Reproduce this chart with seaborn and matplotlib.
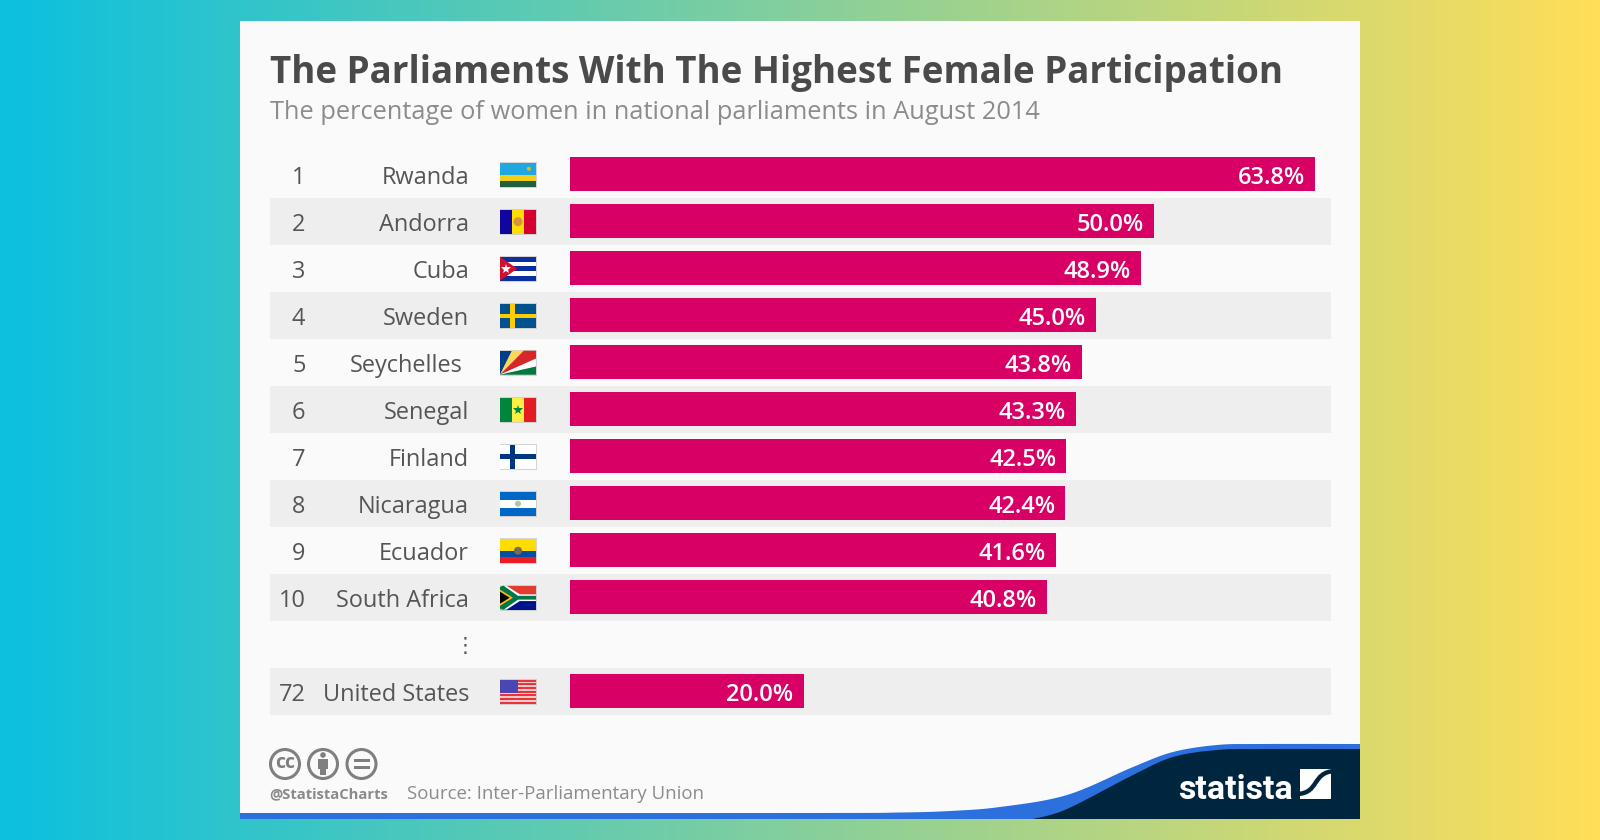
import numpy as np
import pandas as pd
import matplotlib
matplotlib.use("Agg")
import matplotlib.pyplot as plt
import seaborn as sns
from matplotlib.colors import LinearSegmentedColormap
from matplotlib.patches import Circle, PathPatch, Polygon, Rectangle
from matplotlib.path import Path
from matplotlib.transforms import Affine2D

TITLE = "The Parliaments With The Highest Female Participation"
SUBTITLE = "The percentage of women in national parliaments in August 2014"
SOURCE = "Source: Inter-Parliamentary Union"
HANDLE = "@StatistaCharts"

ranks = ["1", "2", "3", "4", "5", "6", "7", "8", "9", "10", "", "72"]
countries = ["Rwanda", "Andorra", "Cuba", "Sweden", "Seychelles", "Senegal",
             "Finland", "Nicaragua", "Ecuador", "South Africa", "", "United States"]
shares = [63.8, 50.0, 48.9, 45.0, 43.8, 43.3, 42.5, 42.4, 41.6, 40.8, np.nan, 20.0]

BAR_COLOR = "#D80064"
CARD = "#FAFAFA"
STRIPE = "#EEEEEE"
TEXT = "#555555"
NAVY = "#00263F"
BLUE = "#2B70DC"

# pixel layout of the chart area
PX_PER_PCT = 11.68
BAR_X0 = 570
ROW_LEFT, ROW_RIGHT = 270, 1331
ROW_TOP, ROW_H = 150.7, 47

sns.set_style("white")
plt.rcParams["font.family"] = ["Open Sans", "DejaVu Sans"]

fig = plt.figure(figsize=(16, 8.4), dpi=100)


def pixel_axes(zorder):
    ax = fig.add_axes([0, 0, 1, 1], zorder=zorder)
    ax.set_xlim(0, 1600)
    ax.set_ylim(840, 0)
    ax.axis("off")
    return ax


# ---------------------------------------------------------------------------
# Background and card
# ---------------------------------------------------------------------------
back = pixel_axes(0)
gradient = LinearSegmentedColormap.from_list("bg", ["#0CC0DF", "#FFDE59"])
back.imshow(np.linspace(0, 1, 800)[None, :], cmap=gradient, aspect="auto",
            extent=(0, 1600, 840, 0))
back.set_xlim(0, 1600)
back.set_ylim(840, 0)
back.add_patch(Rectangle((240, 21), 1120, 798, color=CARD, lw=0))

# ---------------------------------------------------------------------------
# Bars
# ---------------------------------------------------------------------------
df = pd.DataFrame({"country": [c or " " for c in countries], "share": shares})

ax = fig.add_axes([ROW_LEFT / 1600, 1 - (ROW_TOP + 12 * ROW_H) / 840,
                   (ROW_RIGHT - ROW_LEFT) / 1600, 12 * ROW_H / 840], zorder=1)
ax.patch.set_alpha(0)
sns.barplot(data=df, x="share", y="country", color=BAR_COLOR, saturation=1,
            width=34 / 47, linewidth=0, ax=ax, zorder=3)
ax.set_xlim((ROW_LEFT - BAR_X0) / PX_PER_PCT, (ROW_RIGHT - BAR_X0) / PX_PER_PCT)
ax.set_ylim(11.5, -0.5)
ax.set(xlabel="", ylabel="", xticks=[], yticks=[])
sns.despine(ax=ax, left=True, bottom=True)

for i in range(1, 12, 2):
    ax.axhspan(i - 0.5, i + 0.5, color=STRIPE, lw=0, zorder=1)


def x_at(px):
    return (px - BAR_X0) / PX_PER_PCT


BASE = 10 / ROW_H
for i, (rank, country, share) in enumerate(zip(ranks, countries, shares)):
    ax.text(x_at(305.5), i + BASE, rank, ha="right", va="baseline", fontsize=16.9, color=TEXT)
    right = 463 if country == "Seychelles" else 469
    ax.text(x_at(right), i + BASE, country, ha="right", va="baseline", fontsize=16.9, color=TEXT)
    if not np.isnan(share):
        ax.annotate(f"{share:.1f}%", (share, i + BASE), xytext=(-7.2, 0),
                    textcoords="offset points", ha="right", va="baseline",
                    fontsize=17, fontweight="semibold", color="white", zorder=5)
ax.text(x_at(465.5), 10 + BASE - 0.04, "\u22ee", ha="center", va="baseline",
        fontsize=15, color=TEXT, family="DejaVu Sans")

# ---------------------------------------------------------------------------
# Titles, footer, flags
# ---------------------------------------------------------------------------
top = pixel_axes(2)
top.text(270, 83, TITLE, fontsize=26.45, fontweight="bold", color="#4A4A4A", va="baseline")
top.text(270, 119, SUBTITLE, fontsize=18.3, color="#8C8C8C", va="baseline")
top.text(269, 798, HANDLE, fontsize=10.65, fontweight="bold", color="#8A8A8A", va="baseline")
top.text(407, 799, SOURCE, fontsize=13.4, color="#8C8C8C", va="baseline")

# creative commons badges
GREY = "#7F7F7F"
for cx in (285, 323, 361.5):
    top.add_patch(Circle((cx, 764), 14.5, fc="none", ec=GREY, lw=2.2))
top.text(285, 763.5, "cc", ha="center", va="center", fontsize=14, fontweight="bold", color=GREY)
top.add_patch(Circle((323, 755), 2.8, color=GREY, lw=0))
top.add_patch(Rectangle((318, 759), 10, 10, color=GREY, lw=0))
top.add_patch(Rectangle((320, 769), 6, 6, color=GREY, lw=0))
top.add_patch(Rectangle((353.5, 758.5), 16, 3.2, color=GREY, lw=0))
top.add_patch(Rectangle((353.5, 765.5), 16, 3.2, color=GREY, lw=0))


def smooth(knots, steps=16):
    # Catmull-Rom through the outline points of the footer wave
    pts = np.array([knots[0]] + knots + [knots[-1]], dtype=float)
    out = []
    for p0, p1, p2, p3 in zip(pts, pts[1:], pts[2:], pts[3:]):
        for t in np.linspace(0, 1, steps, endpoint=False):
            out.append(0.5 * (2 * p1 + (p2 - p0) * t + (2 * p0 - 5 * p1 + 4 * p2 - p3) * t ** 2
                              + (3 * p1 - p0 - 3 * p2 + p3) * t ** 3))
    out.append(pts[-1])
    return out


blue_edge = [(240, 813), (800, 813), (900, 812.5), (950, 811), (1000, 807), (1067, 795),
             (1133, 767), (1173, 752), (1217, 745), (1260, 744), (1360, 744)]
navy_edge = [(1033, 819), (1067, 809), (1133, 775), (1173, 757), (1217, 750),
             (1260, 749), (1360, 749)]
top.add_patch(Polygon(smooth(blue_edge) + [(1360, 819), (240, 819)], fc=BLUE, lw=0))
top.add_patch(Polygon(smooth(navy_edge) + [(1360, 819)], fc=NAVY, lw=0))

top.text(1178, 799, "statista", fontsize=24.5, fontweight="bold", color="white",
         va="baseline", family="Roboto")
logo_box = Rectangle((1300, 769), 31, 30, color="white", lw=0)
top.add_patch(logo_box)
logo = Path([(1296, 794), (1320, 794), (1311, 772), (1335, 771)],
            [Path.MOVETO, Path.CURVE4, Path.CURVE4, Path.CURVE4])
logo_band = PathPatch(logo, fc="none", ec=NAVY, lw=3.2)
top.add_patch(logo_band)
logo_band.set_clip_path(logo_box)


def flag_parts(x, y):
    return Affine2D().scale(36, 24).translate(x, y) + top.transData


def rect(tr, x, y, w, h, color):
    top.add_patch(Rectangle((x, y), w, h, fc=color, lw=0, transform=tr))


def poly(tr, pts, color):
    top.add_patch(Polygon(pts, closed=True, fc=color, lw=0, transform=tr))


def tr_iso(tr):
    return Affine2D().scale(1 / 36, 1 / 24) + tr


def dot(tr, x, y, color, r=2.5):
    # unit space is anisotropic, so use an isotropic pixel circle
    top.add_patch(Circle((x * 36, y * 24), r, fc=color, lw=0, transform=tr_iso(tr)))


def star(tr, x, y, color, size=7):
    top.plot([x * 36], [y * 24], marker="*", ms=size, mfc=color, mew=0,
             transform=tr_iso(tr), scalex=False, scaley=False)


def rwanda(t):
    rect(t, 0, 0, 1, .5, "#1EA7E1"); rect(t, 0, .5, 1, .25, "#F2CE1B"); rect(t, 0, .75, 1, .25, "#20603D")
    dot(t, .8, .25, "#E5BE01", 2)


def andorra(t):
    rect(t, 0, 0, .34, 1, "#10069F"); rect(t, .34, 0, .33, 1, "#FEDD00"); rect(t, .67, 0, .33, 1, "#D50032")
    dot(t, .5, .5, "#D9953A", 4.5)


def cuba(t):
    for k in range(5):
        rect(t, 0, k / 5, 1, .2, "#0B2F9F" if k % 2 == 0 else "white")
    poly(t, [(0, 0), (.48, .5), (0, 1)], "#D0102E")
    star(t, .16, .5, "white")


def sweden(t):
    rect(t, 0, 0, 1, 1, "#00528F"); rect(t, .27, 0, .14, 1, "#FECC00"); rect(t, 0, .42, 1, .16, "#FECC00")


def seychelles(t):
    poly(t, [(0, 1), (0, 0), (.33, 0)], "#003F87")
    poly(t, [(0, 1), (.33, 0), (.66, 0)], "#FCD856")
    poly(t, [(0, 1), (.66, 0), (1, 0), (1, .33)], "#D62828")
    poly(t, [(0, 1), (1, .33), (1, .66)], "white")
    poly(t, [(0, 1), (1, .66), (1, 1)], "#007A3D")


def senegal(t):
    rect(t, 0, 0, .34, 1, "#00853F"); rect(t, .34, 0, .33, 1, "#FDEF42"); rect(t, .67, 0, .33, 1, "#E31B23")
    star(t, .5, .5, "#00853F")


def finland(t):
    rect(t, 0, 0, 1, 1, "white"); rect(t, .27, 0, .14, 1, "#003580"); rect(t, 0, .4, 1, .18, "#003580")


def nicaragua(t):
    rect(t, 0, 0, 1, 1, "#0067C6"); rect(t, 0, .33, 1, .34, "white")
    dot(t, .5, .5, "#A9C9A0", 3)


def ecuador(t):
    rect(t, 0, 0, 1, .5, "#FFDD00"); rect(t, 0, .5, 1, .25, "#034EA2"); rect(t, 0, .75, 1, .25, "#ED1C24")
    dot(t, .5, .5, "#7A6A4F", 4)


def south_africa(t):
    rect(t, 0, 0, 1, .5, "#E03C31"); rect(t, 0, .5, 1, .5, "#001489")
    poly(t, [(0, 0), (.18, 0), (.55, .36), (1, .36), (1, .64), (.55, .64), (.18, 1), (0, 1)], "white")
    poly(t, [(0, .04), (.1, 0), (.5, .42), (1, .42), (1, .58), (.5, .58), (.1, 1), (0, .96)], "#007749")
    poly(t, [(0, .16), (.36, .5), (0, .84)], "#FFB81C")
    poly(t, [(0, .25), (.27, .5), (0, .75)], "black")


def usa(t):
    for k in range(13):
        rect(t, 0, k / 13, 1, 1 / 13, "#E8333C" if k % 2 == 0 else "#F7C9C9")
    rect(t, 0, 0, .5, 7 / 13, "#4A47B5")


flags = [rwanda, andorra, cuba, sweden, seychelles, senegal, finland, nicaragua,
         ecuador, south_africa, None, usa]
for i, draw in enumerate(flags):
    if draw is None:
        continue
    fx, fy = 500, ROW_TOP + ROW_H * (i + 0.5) - 11.5
    top.add_patch(Rectangle((fx - 0.5, fy - 0.5), 37, 25.5, fc="#BBBBBB", alpha=0.6, lw=0))
    draw(flag_parts(fx, fy))

fig.savefig("out.png", dpi=100)
